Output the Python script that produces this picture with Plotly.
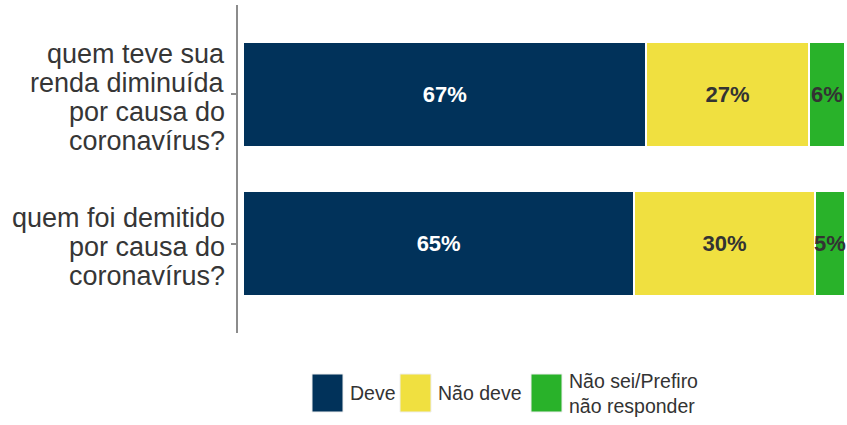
import plotly.graph_objects as go

categories = ["quem teve sua<br>renda diminuída<br>por causa do<br>coronavírus?",
              "quem foi demitido<br>por causa do<br>coronavírus?"]
series_names = ["Deve", "Não deve", "Não sei/Prefiro<br>não responder"]
deve = [67, 65]
nao_deve = [27, 30]
nao_sei = [6, 5]
colors = ["#01325A", "#F0E040", "#29B22A"]
text_colors = ["white", "#333333", "#333333"]

values = [deve, nao_deve, nao_sei]
FONT = "Liberation Sans, Arial"

fig = go.Figure()
for name, vals, col, tc in zip(series_names, values, colors, text_colors):
    fig.add_trace(go.Bar(
        y=categories, x=vals, orientation="h", name=name,
        marker=dict(color=col, line=dict(color="white", width=2)),
        text=[f"{v}%" for v in vals], textposition="inside",
        insidetextanchor="middle", textangle=0, constraintext="none",
        textfont=dict(family=FONT, size=22, color=tc, weight="bold"),
        width=0.7, showlegend=False, hoverinfo="skip",
    ))

# category labels, line by line for tighter line spacing
line_h = 29
for cat in categories:
    lines = cat.split("<br>")
    n = len(lines)
    for i, ln in enumerate(lines):
        fig.add_annotation(xref="paper", yref="y", x=0, y=cat, text=ln,
                           showarrow=False, xanchor="right", yanchor="middle",
                           xshift=-11, yshift=((n - 1) / 2 - i) * line_h - 3,
                           font=dict(family=FONT, size=27, color="#363636"))

# manual legend (large swatches)
leg_x = [312, 400, 531]
for i, (name, col) in enumerate(zip(series_names, colors)):
    fig.add_shape(type="rect", xref="paper", yref="paper",
                  x0=(leg_x[i] - 238) / 609, x1=(leg_x[i] + 31 - 238) / 609,
                  y0=(333 - 412) / 328, y1=(333 - 374) / 328,
                  fillcolor=col, line=dict(color="#EEEEEE", width=1))
    fig.add_annotation(xref="paper", yref="paper",
                       x=(leg_x[i] + 36 - 238) / 609, y=(333 - 393) / 328,
                       text=name, showarrow=False, xanchor="left", yanchor="middle",
                       align="left",
                       font=dict(family=FONT, size=19.5, color="#333333"))

fig.update_layout(
    width=847, height=425,
    margin=dict(l=238, r=0, t=5, b=92),
    barmode="stack", bargap=0.3,
    plot_bgcolor="white", paper_bgcolor="white",
    xaxis=dict(range=[-0.83, 100.33], visible=False, fixedrange=True),
    yaxis=dict(range=[1.6, -0.6], showline=True, linecolor="#8C8C8C", linewidth=2,
               ticks="outside", ticklen=5, tickcolor="#8C8C8C", tickwidth=2,
               showgrid=False, zeroline=False, showticklabels=False, fixedrange=True),
    font=dict(family=FONT),
)

fig.write_html("out.html", config={"displayModeBar": False},
               post_script="document.body.style.margin='0';")
